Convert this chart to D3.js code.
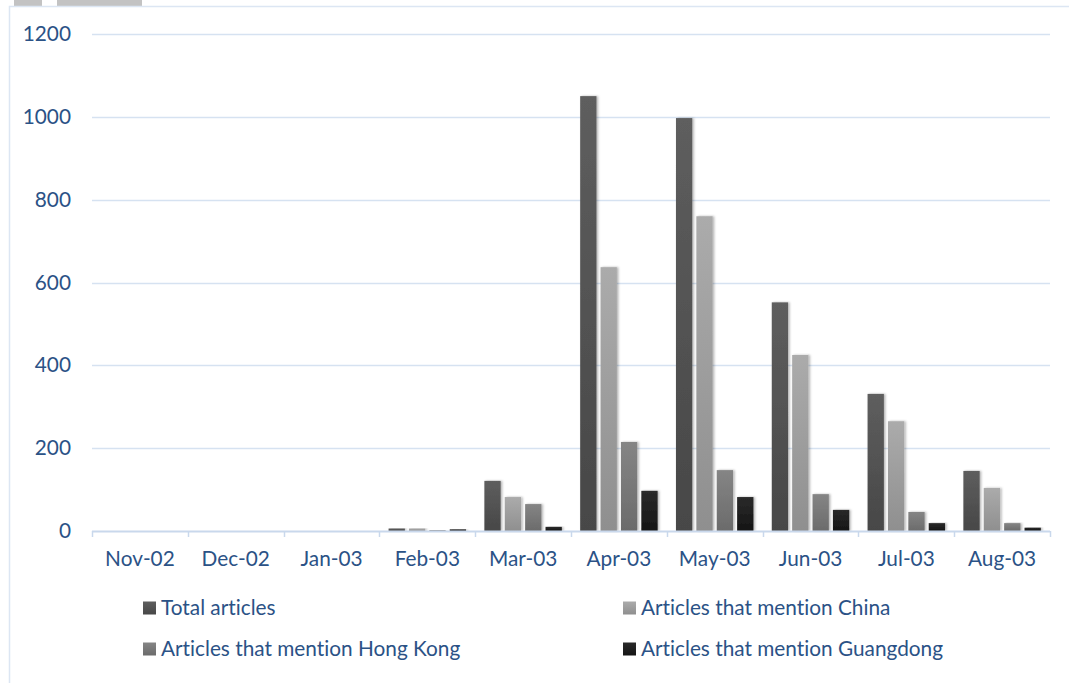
<!DOCTYPE html>
<html>
<head>
<meta charset="utf-8">
<script src="https://cdn.jsdelivr.net/npm/d3@7"></script>
<style>
  html, body { margin: 0; padding: 0; background: #ffffff; }
  svg { display: block; font-family: Lato, "Open Sans", sans-serif; font-variant-ligatures: none; }
</style>
</head>
<body>
<svg id="chart" width="1069" height="683"></svg>
<script>
// Monthly article counts
const months = ["Nov-02", "Dec-02", "Jan-03", "Feb-03", "Mar-03", "Apr-03", "May-03", "Jun-03", "Jul-03", "Aug-03"];
const seriesNames = ["Total articles", "Articles that mention China", "Articles that mention Hong Kong", "Articles that mention Guangdong"];
const totalArticles = [0, 0, 0, 6, 121, 1050, 997, 552, 331, 145];
const chinaArticles = [0, 0, 0, 6, 82, 637, 760, 425, 265, 104];
const hongKongArticles = [0, 0, 0, 2, 65, 215, 147, 89, 46, 19];
const guangdongArticles = [0, 0, 0, 4, 10, 97, 82, 51, 19, 8];
const yTicks = [0, 200, 400, 600, 800, 1000, 1200];

const seriesValues = [totalArticles, chinaArticles, hongKongArticles, guangdongArticles];
const seriesColors = [
  ["#5e5e5e", "#474747"],
  ["#ababab", "#8f8f8f"],
  ["#858585", "#6b6b6b"],
  ["#2a2a2a", "#151515"]
];
const textColor = "#2b5286";
const gridColor = "#d6e2f1";
const fontSize = 20.8;

const svg = d3.select("#chart");
const defs = svg.append("defs");

seriesColors.forEach((c, i) => {
  const g = defs.append("linearGradient")
    .attr("id", "grad" + i).attr("x1", 0).attr("y1", 0).attr("x2", 0).attr("y2", 1);
  g.append("stop").attr("offset", "0%").attr("stop-color", c[0]);
  g.append("stop").attr("offset", "100%").attr("stop-color", c[1]);
});

const shadow = defs.append("filter").attr("id", "shadow")
  .attr("x", "-30%").attr("y", "-10%").attr("width", "160%").attr("height", "120%");
shadow.append("feDropShadow").attr("dx", 1.5).attr("dy", 0).attr("stdDeviation", 1.2)
  .attr("flood-color", "#000").attr("flood-opacity", 0.3);

// chart frame and top tabs
svg.append("rect").attr("x", 14).attr("y", 0).attr("width", 28).attr("height", 6).attr("fill", "#c3c3c3");
svg.append("rect").attr("x", 57).attr("y", 0).attr("width", 85).attr("height", 6).attr("fill", "#c3c3c3");
svg.append("path").attr("d", "M9.5,690 V6.5 H1075")
  .attr("fill", "none").attr("stroke", "#dce6f3").attr("stroke-width", 1.5);

const margin = { left: 92, right: 1050, top: 34, bottom: 531 };

const x = d3.scaleBand().domain(months).range([margin.left, margin.right]).paddingInner(0).paddingOuter(0);
const xInner = d3.scaleBand().domain(d3.range(4))
  .range([0, x.bandwidth()]).paddingInner(0.2).paddingOuter(0.45);
const y = d3.scaleLinear().domain([0, 1200]).range([margin.bottom, margin.top]);

// gridlines
svg.append("g").selectAll("line").data(yTicks.slice(1)).join("line")
  .attr("x1", margin.left).attr("x2", margin.right)
  .attr("y1", d => Math.round(y(d)) + 0.5).attr("y2", d => Math.round(y(d)) + 0.5)
  .attr("stroke", gridColor).attr("stroke-width", 1.3);

// y-axis labels
const yAxis = d3.axisLeft(y).tickValues(yTicks).tickFormat(d3.format("d")).tickSize(0).tickPadding(0);
const yg = svg.append("g").attr("transform", "translate(71,0)").call(yAxis);
yg.select(".domain").remove();
yg.selectAll("text").attr("fill", textColor).attr("font-size", fontSize).attr("font-family", "Lato, sans-serif");

// bars
const groups = svg.append("g").selectAll("g").data(months).join("g")
  .attr("transform", d => `translate(${x(d)},0)`);
groups.selectAll("rect")
  .data((m, mi) => seriesValues.map((vals, si) => ({ si, v: vals[mi] })))
  .join("rect")
  .attr("x", d => xInner(d.si))
  .attr("width", xInner.bandwidth())
  .attr("y", d => y(d.v))
  .attr("height", d => y(0) - y(d.v))
  .attr("fill", d => `url(#grad${d.si})`)
  .attr("filter", "url(#shadow)");

// x axis
const xAxis = d3.axisBottom(x).tickSize(0).tickPadding(20);
const xg = svg.append("g").attr("transform", `translate(0,${margin.bottom})`).call(xAxis);
xg.select(".domain").attr("stroke", "#c9d8ec").attr("stroke-width", 2)
  .attr("d", `M${margin.left},0.5H${margin.right}`);
xg.selectAll("text").attr("fill", textColor).attr("font-size", fontSize).attr("font-family", "Lato, sans-serif");
const boundaries = months.map(m => x(m)).concat([margin.right]);
xg.append("g").selectAll("line").data(boundaries).join("line")
  .attr("x1", d => Math.round(d) + 0.5).attr("x2", d => Math.round(d) + 0.5)
  .attr("y1", 0).attr("y2", 6)
  .attr("stroke", "#c9d8ec").attr("stroke-width", 1.5);

// legend
const legendPos = [[143, 608], [623, 608], [143, 649], [623, 649]];
const legend = svg.append("g").selectAll("g").data(seriesNames).join("g")
  .attr("transform", (d, i) => `translate(${legendPos[i][0]},${legendPos[i][1]})`);
legend.append("rect").attr("x", 0).attr("y", -6.5).attr("width", 13).attr("height", 13)
  .attr("fill", (d, i) => `url(#grad${i})`);
legend.append("text").attr("x", 18).attr("y", 0).attr("dy", "0.35em")
  .attr("fill", textColor).attr("font-size", fontSize).attr("font-family", "Lato, sans-serif")
  .text(d => d);
</script>
</body>
</html>
